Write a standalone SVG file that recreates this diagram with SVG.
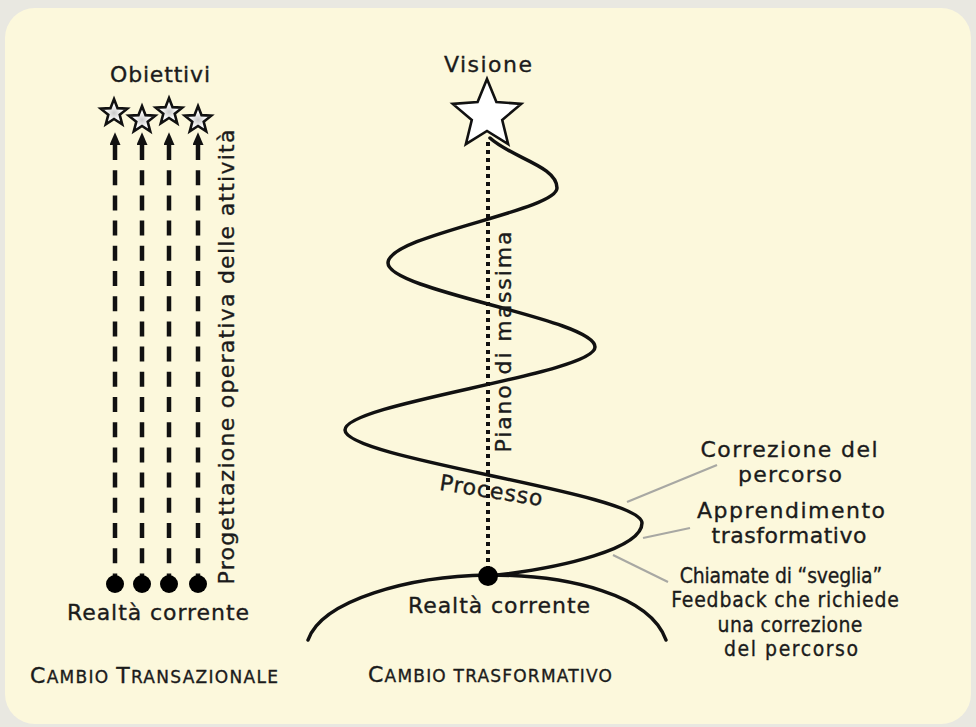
<svg xmlns="http://www.w3.org/2000/svg" width="976" height="727" viewBox="0 0 976 727">
<style>
  text { font-family: "DejaVu Sans", "Liberation Sans", sans-serif; fill: #1b1b1b; stroke: #1b1b1b; stroke-width: 0.35; }
  .lbl { font-size: 22px; }
  .sm { font-size: 21px; }
  .mid { text-anchor: middle; }
  .dash { fill: none; stroke: #111; stroke-width: 4.5; stroke-dasharray: 15 10.2; }
  .dot { fill: #000; }
  .curve { fill: none; stroke: #111; stroke-width: 3.5; stroke-linecap: round; }
  .dotted { fill: none; stroke: #111; stroke-width: 4; stroke-dasharray: 4 4; }
  .leader { fill: none; stroke: #a8a8a3; stroke-width: 2.2; }
  .star { stroke: #111; stroke-width: 2.6; stroke-linejoin: miter; }
</style>
<defs>
  <radialGradient id="sg" cx="0.5" cy="0.55" r="0.5">
    <stop offset="0" stop-color="#c8c8c8"/>
    <stop offset="0.6" stop-color="#ffffff"/>
  </radialGradient>
  <marker id="ah" viewBox="0 0 14 12" refX="0" refY="6" markerWidth="14" markerHeight="11" markerUnits="userSpaceOnUse" orient="auto-start-reverse">
    <path d="M0,0 L14,6 L0,12 Z" fill="#111"/>
  </marker>
  <path id="sstar" d="M0,-14 L3.53,-4.85 13.31,-4.33 5.71,1.85 8.23,11.33 0,6 -8.23,11.33 -5.71,1.85 -13.31,-4.33 -3.53,-4.85 Z"/>
</defs>

<rect x="0" y="0" width="976" height="727" fill="#e9e8e1"/>
<rect x="5" y="8" width="966" height="716" rx="30" fill="#fcf8dc"/>

<g id="connectors">
  <path class="dash" d="M115,145 V588" marker-start="url(#ah)"/>
  <path class="dash" d="M142,145 V588" marker-start="url(#ah)"/>
  <path class="dash" d="M169,145 V588" marker-start="url(#ah)"/>
  <path class="dash" d="M198,145 V588" marker-start="url(#ah)"/>
  <path class="dotted" d="M488,142 V574"/>
  <path id="spiral" class="curve" d="M490,138 C512,158 557,166 557,188 C557,211 388,235 388,263 C388,291 595,319 595,347 C595,374 345,403 345,430 C345,459 642,493 642,523 C642,548 565,568 488,576"/>
  <path id="ground" class="curve" d="M308,640 C322,600 410,576 488,575 C570,575 650,595 666,640"/>
  <line class="leader" x1="627" y1="502" x2="717" y2="465"/>
  <line class="leader" x1="643" y1="538" x2="690" y2="528"/>
  <line class="leader" x1="613" y1="555" x2="668" y2="582"/>
</g>

<g id="obiettivi">
  <text class="lbl mid" x="160" y="82" font-size="23" textLength="100">Obiettivi</text>
  <use href="#sstar" x="114" y="113" class="star" fill="url(#sg)"/>
  <use href="#sstar" x="142" y="120" class="star" fill="url(#sg)"/>
  <use href="#sstar" x="169" y="112" class="star" fill="url(#sg)"/>
  <use href="#sstar" x="198" y="120" class="star" fill="url(#sg)"/>
</g>

<g id="realta-sx">
  <circle class="dot" cx="115" cy="584" r="9"/>
  <circle class="dot" cx="142" cy="584" r="9"/>
  <circle class="dot" cx="169" cy="584" r="9"/>
  <circle class="dot" cx="198" cy="584" r="9"/>
  <text class="lbl mid" x="158" y="620" textLength="182">Realtà corrente</text>
</g>

<g id="progettazione">
  <text class="lbl mid" transform="translate(234,357) rotate(-90)" x="0" y="0" textLength="455">Progettazione operativa delle attività</text>
</g>

<g id="titolo-sx">
  <text x="30" y="683" textLength="248" font-size="17"><tspan font-size="22">C</tspan>AMBIO <tspan font-size="22">T</tspan>RANSAZIONALE</text>
</g>

<g id="visione">
  <text class="lbl mid" x="488" y="72" font-size="23" textLength="88">Visione</text>
  <path class="star" fill="#ffffff" transform="translate(487,115)" d="M0,-36 L9.4,-12.94 34.24,-11.12 15.22,4.94 21.16,29.12 0,16 -21.16,29.12 -15.22,4.94 -34.24,-11.12 -9.4,-12.94 Z"/>
</g>

<g id="piano">
  <text class="lbl mid" transform="translate(511,342) rotate(-90)" x="0" y="0" textLength="221">Piano di massima</text>
</g>

<g id="processo">
  <text class="lbl mid" transform="translate(490,498) rotate(9)" x="0" y="0" textLength="104">Processo</text>
</g>

<g id="realta-dx">
  <circle class="dot" cx="488" cy="576" r="10"/>
  <text class="lbl mid" x="499" y="613" textLength="182">Realtà corrente</text>
</g>

<g id="correzione">
  <text class="lbl mid" x="789" y="457" textLength="177">Correzione del</text>
  <text class="lbl mid" x="790" y="482" textLength="104">percorso</text>
</g>

<g id="apprendimento">
  <text class="lbl mid" x="791" y="518" textLength="188">Apprendimento</text>
  <text class="lbl mid" x="789" y="543" textLength="155">trasformativo</text>
</g>

<g id="chiamate">
  <text class="sm mid" transform="translate(781,583) scale(0.9,1)" textLength="225">Chiamate di “sveglia”</text>
  <text class="sm mid" transform="translate(785,607) scale(0.9,1)" textLength="253">Feedback che richiede</text>
  <text class="sm mid" transform="translate(790,632) scale(0.9,1)" textLength="161">una correzione</text>
  <text class="sm mid" transform="translate(791,656) scale(0.9,1)" textLength="149">del percorso</text>
</g>

<g id="titolo-dx">
  <text x="368" y="682" textLength="244" font-size="17"><tspan font-size="22">C</tspan>AMBIO TRASFORMATIVO</text>
</g>
</svg>
